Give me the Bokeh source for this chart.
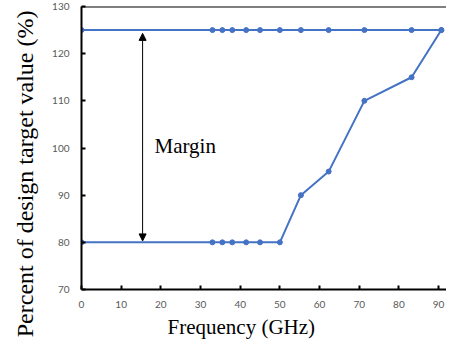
from bokeh.plotting import figure
from bokeh.models import Label, Span, Arrow, NormalHead, FixedTicker, Range1d, Title
from bokeh.embed import file_html
from bokeh.resources import INLINE

# data
freq = [0, 33, 35.5, 38, 41.5, 45, 50, 55.3, 62.3, 71.3, 83.2, 90.7]
upper_pct = [125, 125, 125, 125, 125, 125, 125, 125, 125, 125, 125, 125]
lower_pct = [80, 80, 80, 80, 80, 80, 80, 90, 95, 110, 115, 125]
x_ticks = [0, 10, 20, 30, 40, 50, 60, 70, 80, 90]
y_ticks = [70, 80, 90, 100, 110, 120, 130]
x_start, x_end = 0, 92
y_start, y_end = 70, 130
margin_arrow_x = 15.4
margin_arrow_top = 124.3
margin_arrow_bottom = 80.3
margin_label_x = 18.4
margin_label_y = 100.5

BLUE = "#4472C4"
SERIF = "Liberation Serif"

p = figure(width=446, height=341, x_range=Range1d(x_start, x_end),
           y_range=Range1d(y_start, y_end), output_backend="svg",
           toolbar_location=None, min_border_left=81, min_border_right=0,
           min_border_top=6, min_border_bottom=52)
p.grid.visible = False
p.outline_line_color = None

for ax in (p.xaxis[0], p.yaxis[0]):
    ax.axis_line_color = "black"
    ax.axis_line_width = 2
    ax.major_tick_in = 4
    ax.major_tick_out = 0
    ax.major_tick_line_color = "black"
    ax.major_tick_line_width = 2
    ax.minor_tick_line_color = None
    ax.major_label_text_font = "Lato"
    ax.major_label_text_font_size = "10px"
    ax.major_label_text_color = "#595959"
p.xaxis.major_label_standoff = 11
p.yaxis.major_label_standoff = 12
p.xaxis.ticker = FixedTicker(ticks=x_ticks)
p.yaxis.ticker = FixedTicker(ticks=y_ticks)

p.add_layout(Span(location=y_end, dimension="width", line_color="black", line_width=2))

p.line(freq, upper_pct, line_color=BLUE, line_width=2)
p.scatter(freq, upper_pct, size=5, fill_color=BLUE, line_color=BLUE)
p.line(freq, lower_pct, line_color=BLUE, line_width=2)
p.scatter(freq, lower_pct, size=5, fill_color=BLUE, line_color=BLUE)

p.add_layout(Arrow(x_start=margin_arrow_x, y_start=margin_arrow_bottom,
                   x_end=margin_arrow_x, y_end=margin_arrow_top,
                   line_color="black", line_width=1,
                   start=NormalHead(size=7, fill_color="black", line_color="black"),
                   end=NormalHead(size=7, fill_color="black", line_color="black")))

p.add_layout(Label(x=margin_label_x, y=margin_label_y, text="Margin",
                   text_font=SERIF, text_font_size="21px", text_color="black",
                   text_align="left", text_baseline="alphabetic"))

p.add_layout(Title(text="Frequency (GHz)", align="left", offset=86,
                   vertical_align="bottom", standoff=5,
                   text_font=SERIF, text_font_size="21px", text_font_style="normal",
                   text_color="black"), "below")
p.add_layout(Title(text="Percent of design target value (%)", align="right", offset=4,
                   vertical_align="top", standoff=20,
                   text_font=SERIF, text_font_size="24px", text_font_style="normal",
                   text_color="black"), "left")

open("out.html", "w").write(file_html(p, INLINE))
